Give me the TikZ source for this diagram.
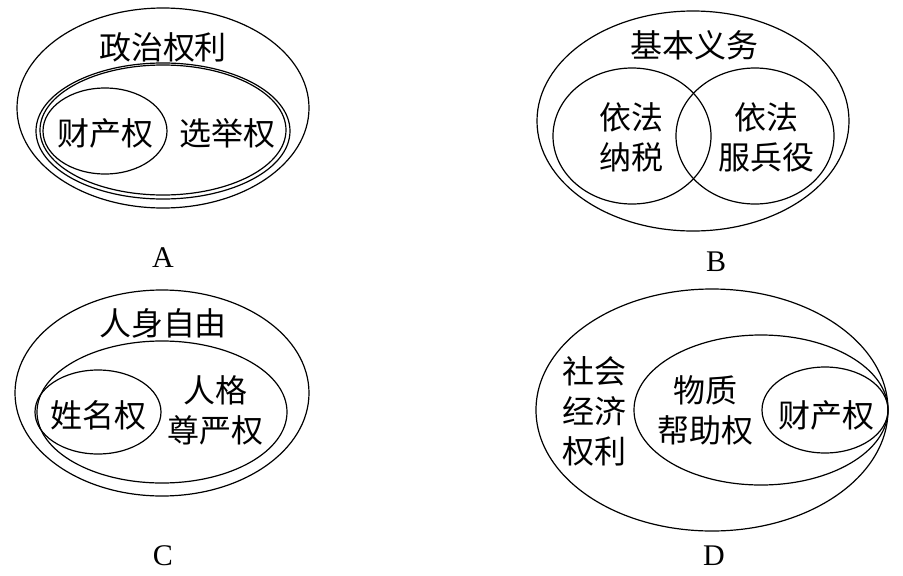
\documentclass[tikz,border=0pt]{standalone}
\usepackage{fontspec}
\setmainfont{Liberation Serif}
\newfontfamily\cjk{Noto Sans CJK SC}

\begin{document}
\begin{tikzpicture}[
    x=1pt, y=-1pt,
    oval/.style={line width=1.2pt,black},
    word/.style={font=\cjk\fontsize{32}{40}\selectfont,align=center,inner sep=0pt},
    tag/.style={font=\fontsize{30}{36}\selectfont,inner sep=0pt}
]
\useasboundingbox (0,0) rectangle (903,576);

% A: political rights
\draw[oval] (163,108) ellipse [x radius=146, y radius=100];
\draw[oval] (163,131) ellipse [x radius=127, y radius=68];
\draw[oval] (163,130) ellipse [x radius=123, y radius=65];
\draw[oval] (105,131) ellipse [x radius=62, y radius=43];
\node[word] (zzql) at (163,47) {政治权利};
\node[word] (ccqA) at (105,133) {财产权};
\node[word] (xjq) at (227,133) {选举权};

% B: basic duties
\draw[oval] (693,121) ellipse [x radius=156, y radius=110];
\draw[oval] (632,136) ellipse [x radius=79, y radius=68];
\draw[oval] (755,136) ellipse [x radius=79, y radius=68];
\node[word] (jbyw) at (694,45) {基本义务};
\node[word] (yfns) at (631,137) {依法\\纳税};
\node[word] (yffby) at (766,137) {依法\\服兵役};

% C: personal freedom
\draw[oval] (162,393) ellipse [x radius=147, y radius=103];
\draw[oval] (162,412) ellipse [x radius=125, y radius=71];
\draw[oval] (98,412) ellipse [x radius=63, y radius=42];
\node[word] (rszy) at (163,323) {人身自由};
\node[word] (xmq) at (98,415) {姓名权};
\node[word] (rgzyq) at (215,410) {人格\\尊严权};

% D: social economic rights
\draw[oval] (712,410) ellipse [x radius=176, y radius=121];
\draw[oval] (761,410) ellipse [x radius=127, y radius=75];
\draw[oval] (825,410) ellipse [x radius=63, y radius=43];
\node[word] (shjj) at (594,411) {社会\\经济\\权利};
\node[word] (wzbz) at (705,410) {物质\\帮助权};
\node[word] (ccqD) at (826,415) {财产权};

% panel letters
\foreach \t/\x/\y in {A/163/258, B/716/262, C/163/556, D/714/556} {
    \node[tag] (tag\t) at (\x,\y) {\t};
}

\end{tikzpicture}
\end{document}
